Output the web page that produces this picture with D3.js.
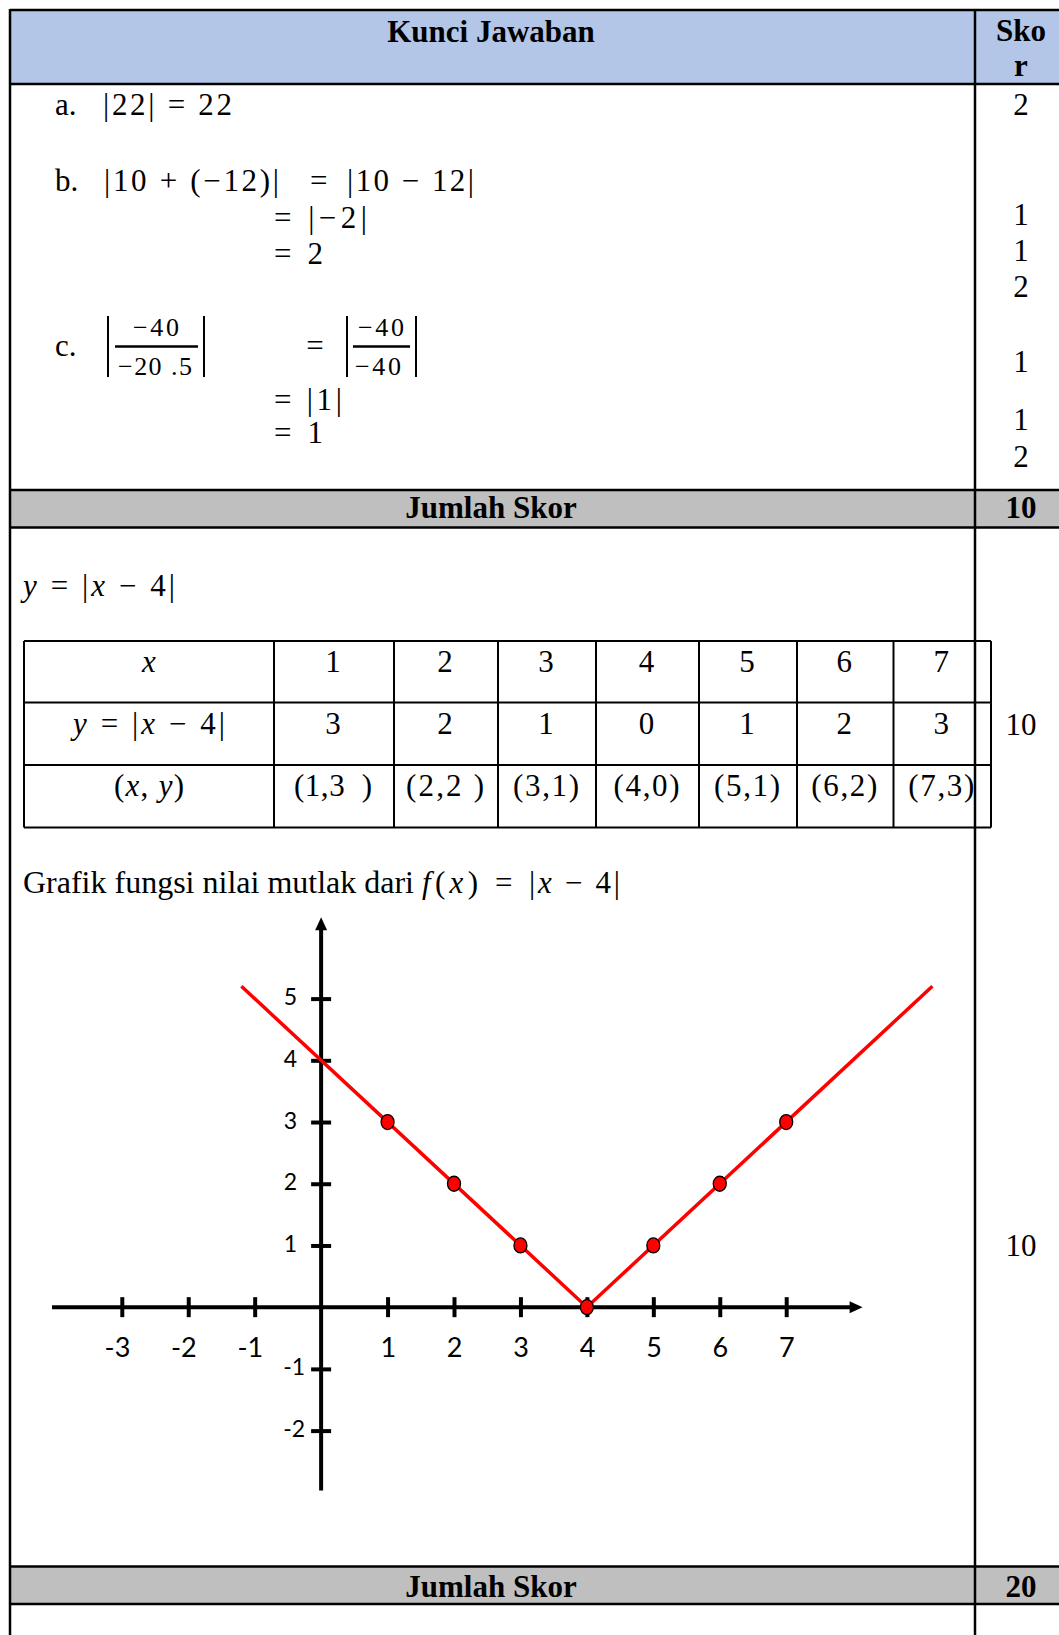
<!DOCTYPE html>
<html><head><meta charset="utf-8">
<script src="https://cdn.jsdelivr.net/npm/d3@7"></script>
<style>
html,body{margin:0;padding:0;background:#fff;}
svg{display:block;}
text{white-space:pre;}
</style></head><body>
<svg id="c" width="1059" height="1635"></svg>
<script>
// ---------- data ----------
const xValues = [1, 2, 3, 4, 5, 6, 7];
const yValues = [3, 2, 1, 0, 1, 2, 3];
const pairLabels = ["(1,3  )", "(2,2 )", "(3,1)", "(4,0)", "(5,1)", "(6,2)", "(7,3)"];
const xTicks = [-3, -2, -1, 1, 2, 3, 4, 5, 6, 7];
const yTicks = [-2, -1, 1, 2, 3, 4, 5];
const lineX = [-1.2, 4, 9.2];
const lineY = [5.2, 0, 5.2];
const xAxisExtent = [-4.05, 8.15];
const yAxisExtent = [-2.97, 6.32];
const part1Scores = ["2", "1", "1", "2", "1", "1", "2"];
const totals = ["10", "20"];
const part2Scores = ["10", "10"];

// ---------- setup ----------
const svg = d3.select("#c");
const SERIF = "'Liberation Serif','Times New Roman',serif";
const SANS = "Lato,'Noto Sans',sans-serif";
const W = 1059, H = 1635;
const L = 10, DIV = 975, SC = 1021;

function text(x, y, str, o = {}) {
  const t = svg.append("text").attr("x", x).attr("y", y)
    .attr("font-family", o.family || SERIF)
    .attr("font-size", o.size || 31)
    .attr("font-weight", o.weight || "normal")
    .attr("text-anchor", o.anchor || "start")
    .attr("fill", "#000");
  if (o.italic) t.attr("font-style", "italic");
  if (o.len) t.attr("textLength", o.len).attr("lengthAdjust", o.adj || "spacing");
  if (Array.isArray(str)) {
    str.forEach(p => {
      const s = t.append("tspan").text(p[0]);
      if (p[1]) s.attr("font-style", "italic");
    });
  } else t.text(str);
  return t;
}
function hline(x1, x2, y, w = 2.5) {
  svg.append("line").attr("x1", x1).attr("x2", x2).attr("y1", y).attr("y2", y)
    .attr("stroke", "#000").attr("stroke-width", w);
}
function vline(x, y1, y2, w = 2.5) {
  svg.append("line").attr("x1", x).attr("x2", x).attr("y1", y1).attr("y2", y2)
    .attr("stroke", "#000").attr("stroke-width", w);
}

// ---------- fills ----------
svg.append("rect").attr("x", L).attr("y", 10).attr("width", W - L).attr("height", 74).attr("fill", "#b4c6e7");
svg.append("rect").attr("x", L).attr("y", 490).attr("width", W - L).attr("height", 37).attr("fill", "#bfbfbf");
svg.append("rect").attr("x", L).attr("y", 1566.5).attr("width", W - L).attr("height", 37.5).attr("fill", "#bfbfbf");

// ---------- header ----------
text(491, 42, "Kunci Jawaban", {weight: "bold", size: 31, anchor: "middle"});
text(SC, 41, "Sko", {weight: "bold", size: 31, anchor: "middle"});
text(SC, 76, "r", {weight: "bold", size: 31, anchor: "middle"});

// ---------- part 1 ----------
const MS = 31;
text(55, 115, "a.");
text(103, 115, "|22| = 22", {size: MS, len: 129});
text(55, 191, "b.");
text(104, 191, "|10 + (−12)|", {size: MS, len: 175});
text(310, 191, "=", {size: MS});
text(347, 191, "|10 − 12|", {size: MS, len: 127});
text(274, 228, "= |−2|", {size: MS, len: 93});
text(274, 264, "= 2", {size: MS, len: 49});
text(55, 356, "c.");
// fraction 1
vline(108, 316, 377, 2);
vline(204, 316, 377, 2);
hline(115, 198, 346.5, 2.5);
text(156, 336, "−40", {size: 26, anchor: "middle", len: 46});
text(155, 375, "−20 .5", {size: 26, anchor: "middle", len: 74});
text(315, 356, "=", {size: MS, anchor: "middle"});
// fraction 2
vline(347, 316, 377, 2);
vline(416, 316, 377, 2);
hline(353, 410, 346.5, 2.5);
text(381, 336, "−40", {size: 26, anchor: "middle", len: 46});
text(378, 375, "−40", {size: 26, anchor: "middle", len: 46});
text(274, 410, "= |1|", {size: MS, len: 68});
text(274, 443, "= 1", {size: MS, len: 49});

const part1Y = [115, 225, 261, 297, 372, 430, 467];
part1Scores.forEach((s, i) => text(SC, part1Y[i], s, {anchor: "middle"}));

text(491, 518, "Jumlah Skor", {weight: "bold", size: 31, anchor: "middle"});
text(SC, 518, totals[0], {weight: "bold", size: 31, anchor: "middle"});

// ---------- part 2 ----------
text(23, 596, [["y", 1], [" = |"], ["x", 1], [" − 4|"]], {size: MS, len: 152});

const colX = [24, 274, 394, 498, 596, 699, 797, 893.5, 991];
const rowY = [641, 702.5, 765, 827.5];
rowY.forEach(y => hline(colX[0], colX[8], y, 2));
colX.forEach(x => vline(x, rowY[0], rowY[3], 2));
const cx = i => (colX[i] + colX[i + 1]) / 2;
text(cx(0), 672, [["x", 1]], {size: MS, anchor: "middle"});
text(cx(0), 734, [["y", 1], [" = |"], ["x", 1], [" − 4|"]], {size: MS, anchor: "middle", len: 152});
text(cx(0), 796, [["("], ["x", 1], [", "], ["y", 1], [")"]], {size: MS, anchor: "middle", len: 70});
xValues.forEach((v, i) => {
  text(cx(i + 1) - 1, 672, String(v), {size: MS, anchor: "middle"});
  text(cx(i + 1) - 1, 734, String(yValues[i]), {size: MS, anchor: "middle"});
  text(cx(i + 1) - 1, 796, pairLabels[i], {size: MS, anchor: "middle", len: pairLabels[i].length > 5 ? 78 : 66});
});
text(SC, 735, part2Scores[0], {anchor: "middle"});

text(23, 893, "Grafik fungsi nilai mutlak dari", {size: 32, len: 391});
text(422, 893, [["f", 1], ["("], ["x", 1], [")"]], {size: MS, len: 56});
text(495, 893, "=", {size: MS});
text(529, 893, [["|"], ["x", 1], [" − 4|"]], {size: MS, len: 91});

text(SC, 1256, part2Scores[1], {anchor: "middle"});

text(491, 1597, "Jumlah Skor", {weight: "bold", size: 31, anchor: "middle"});
text(SC, 1597, totals[1], {weight: "bold", size: 31, anchor: "middle"});

// ---------- table borders ----------
hline(L, W, 10, 2.5);
hline(L, W, 84, 2.5);
hline(L, W, 490, 2.5);
hline(L, W, 527.5, 2.5);
hline(L, W, 1566.5, 2.5);
hline(L, W, 1604, 2.5);
vline(L, 9, H, 2.5);
vline(DIV, 9, H, 2.5);

// ---------- chart ----------
const xs = d3.scaleLinear().domain([-3, 7]).range([121.8, 786.2]);
const ys = d3.scaleLinear().domain([-2, 5]).range([1430.6, 998.6]);
const ax0 = xs(0), ay0 = ys(0);
const chart = svg.append("g");

const xEnd = xs(xAxisExtent[1]), yTop = ys(yAxisExtent[1]);
chart.append("line").attr("x1", xs(xAxisExtent[0])).attr("x2", xEnd - 8)
  .attr("y1", ay0).attr("y2", ay0).attr("stroke", "#000").attr("stroke-width", 4);
chart.append("path").attr("d", `M${xEnd},${ay0} L${xEnd - 13},${ay0 - 6} L${xEnd - 13},${ay0 + 6} Z`).attr("fill", "#000");
chart.append("line").attr("x1", ax0).attr("x2", ax0)
  .attr("y1", ys(yAxisExtent[0])).attr("y2", yTop + 8).attr("stroke", "#000").attr("stroke-width", 4);
chart.append("path").attr("d", `M${ax0},${yTop} L${ax0 - 6},${yTop + 13} L${ax0 + 6},${yTop + 13} Z`).attr("fill", "#000");

const gx = chart.append("g").attr("transform", `translate(0,${ay0})`)
  .call(d3.axisBottom(xs).tickValues(xTicks).tickSize(10).tickFormat(d => String(d)));
gx.select(".domain").remove();
gx.selectAll(".tick line").attr("y1", -10).attr("y2", 10).attr("stroke", "#000").attr("stroke-width", 4);
gx.selectAll(".tick text").attr("font-family", SANS).attr("font-size", 27).attr("fill", "#000")
  .attr("text-anchor", "end").attr("x", 8).attr("y", 50).attr("dy", 0);

const gy = chart.append("g").attr("transform", `translate(${ax0},0)`)
  .call(d3.axisLeft(ys).tickValues(yTicks).tickSize(10).tickFormat(d => String(d)));
gy.select(".domain").remove();
gy.selectAll(".tick line").attr("x1", -10).attr("x2", 10).attr("stroke", "#000").attr("stroke-width", 4);
gy.selectAll(".tick text").attr("font-family", SANS).attr("font-size", 23).attr("fill", "#000")
  .attr("text-anchor", "end").attr("x", d => d < 0 ? -16 : -24).attr("dy", 0).attr("y", 6);

const pts = lineX.map((x, i) => [x, lineY[i]]);
chart.append("path").datum(pts)
  .attr("d", d3.line().x(d => xs(d[0])).y(d => ys(d[1])))
  .attr("fill", "none").attr("stroke", "#ff0000").attr("stroke-width", 3.5);

chart.selectAll("ellipse.pt").data(xValues.map((x, i) => [x, yValues[i]])).join("ellipse")
  .attr("class", "pt")
  .attr("cx", d => xs(d[0])).attr("cy", d => ys(d[1]))
  .attr("rx", 6.5).attr("ry", 7.5)
  .attr("fill", "#ff0000").attr("stroke", "#000").attr("stroke-width", 1.3);
</script>
</body></html>
